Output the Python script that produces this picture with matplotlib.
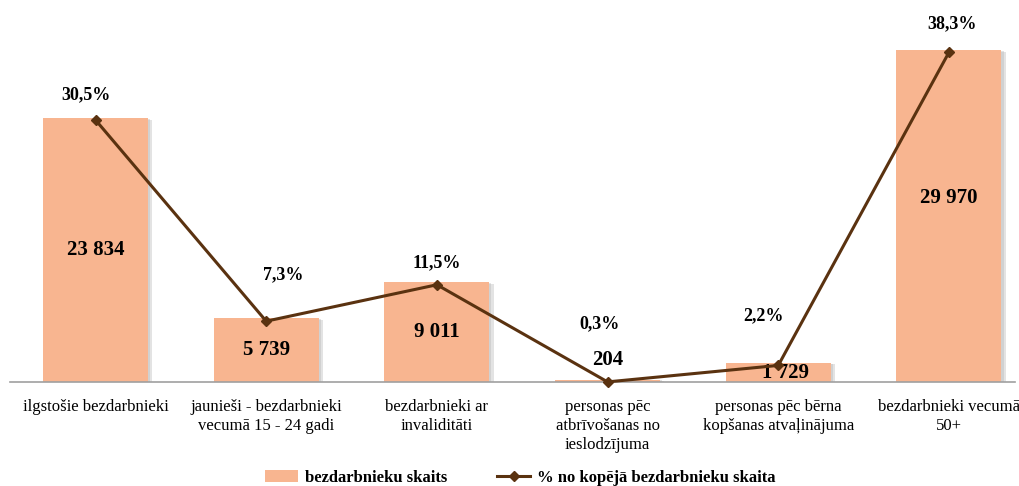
import matplotlib
matplotlib.use("Agg")
import matplotlib.pyplot as plt
import matplotlib.patheffects as pe
from matplotlib.lines import Line2D
from matplotlib.patches import Patch

plt.rcParams['font.family'] = ['Liberation Serif', 'DejaVu Serif']

# --- Dati ---
categories = [
    "ilgstošie bezdarbnieki",
    "jaunieši - bezdarbnieki\nvecumā 15 - 24 gadi",
    "bezdarbnieki ar\ninvaliditāti",
    "personas pēc\natbrīvošanas no\nieslodzījuma",
    "personas pēc bērna\nkopšanas atvaļinājuma",
    "bezdarbnieki vecumā\n50+",
]
counts = [23834, 5739, 9011, 204, 1729, 29970]
count_labels = ["23 834", "5 739", "9 011", "204", "1 729", "29 970"]
shares = [30.5, 7.3, 11.5, 0.3, 2.2, 38.3]
share_labels = ["30,5%", "7,3%", "11,5%", "0,3%", "2,2%", "38,3%"]

bar_color = "#F8B590"
line_color = "#5A3210"

fig = plt.figure(figsize=(10.2, 4.86), dpi=100)
W, H = 1020, 486
ax = fig.add_axes([10 / W, (H - 382) / H, 1005 / W, 372 / H])
ax2 = ax.twinx()

x = list(range(len(categories)))

# --- Stabiņi ---
bars = ax.bar(x, counts, width=0.615, color=bar_color, zorder=2,
              path_effects=[pe.SimplePatchShadow(offset=(3, -1), shadow_rgbFace="#B0B0B0", alpha=0.35),
                            pe.SimplePatchShadow(offset=(1.5, -0.5), shadow_rgbFace="#B0B0B0", alpha=0.35),
                            pe.Normal()])
ax.set_ylim(0, 33600)
ax.set_xlim(-0.501, 5.387)

# etiķešu nobīdes pikseļos (x, y) attiecībā pret stabiņa vidu
count_offsets = [(0, 0), (0, 0), (0, 0), (0, 0), (7, 0), (0, 18)]
for i, (c, lab) in enumerate(zip(counts, count_labels)):
    if c < 1000:
        y = c
        dy = 20
    elif c < 3000:
        y = c / 2
        dy = -1
    else:
        y = c / 2
        dy = 0
    ox, oy = count_offsets[i]
    ax.annotate(lab, (i, y), xytext=(ox, dy + oy), textcoords="offset pixels",
                ha="center", va="center", fontsize=15, fontweight="bold", zorder=5)

# --- Līnija ---
ax2.plot(x, shares, color=line_color, lw=2.2, marker="D", markersize=5, zorder=4, clip_on=False)
ax2.set_ylim(0.288, 43.18)

share_offsets = [(-10, 25), (17, 46), (0, 22), (-8, 58), (-15, 50), (3, 29)]
for i, (s, lab) in enumerate(zip(shares, share_labels)):
    ox, oy = share_offsets[i]
    ax2.annotate(lab, (i, s), xytext=(ox, oy), textcoords="offset pixels",
                 ha="center", va="center", fontsize=13, fontweight="bold")

# --- Asis ---
for a in (ax, ax2):
    for sp in ("top", "left", "right"):
        a.spines[sp].set_visible(False)
    a.set_yticks([])
ax2.spines["bottom"].set_visible(False)
ax.spines["bottom"].set_color("#A0A0A0")
ax.spines["bottom"].set_linewidth(1.2)
ax.set_xticks(x)
ax.set_xticklabels(categories, fontsize=12, linespacing=1.25)
ax.tick_params(axis="x", length=0, pad=12)

# --- Leģenda ---
handles = [
    Patch(facecolor=bar_color, edgecolor="none"),
    Line2D([0], [0], color=line_color, lw=2.2, marker="D", markersize=5),
]
labels = ["bezdarbnieku skaits", "% no kopējā bezdarbnieku skaita"]
fig.legend(handles, labels, loc="center", bbox_to_anchor=(0.51, 0.017), ncol=2,
           frameon=False, prop={"weight": "bold", "size": 12},
           handlelength=2.0, handletextpad=0.4, columnspacing=3.0)

fig.savefig("out.png", dpi=100)
